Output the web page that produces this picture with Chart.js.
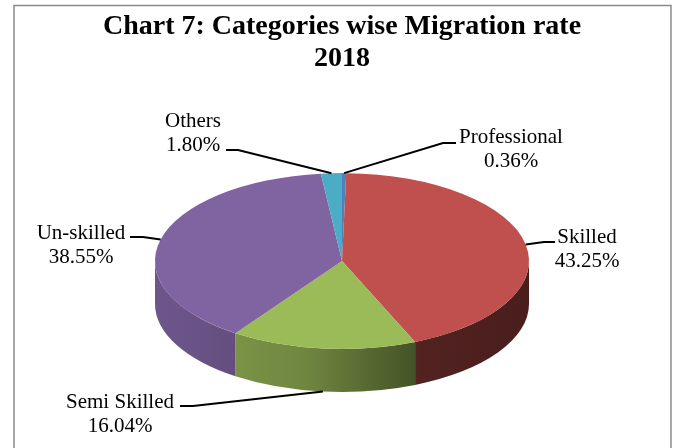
<!DOCTYPE html>
<html>
<head>
<meta charset="utf-8">
<script src="https://cdn.jsdelivr.net/npm/chart.js@4.4.1/dist/chart.umd.min.js"></script>
<style>
    html, body { margin: 0; padding: 0; background: #fff; }
    #wrap { width: 680px; height: 448px; }
</style>
</head>
<body>
<div id="wrap"><canvas id="chart" width="680" height="448"></canvas></div>
<script>
const categories = ['Professional', 'Skilled', 'Semi Skilled', 'Un-skilled', 'Others']
const shares = [0.36, 43.25, 16.04, 38.55, 1.8]
const sliceColors = ['#4f81bd', '#c0504d', '#9bbb59', '#8064a2', '#4bacc6']
const titleLines = ['Chart 7: Categories wise Migration rate', '2018']

const TILT = 0.47 // vertical squash of the pie top
const DEPTH = 43 // thickness of the pie side
const SERIF = '"Liberation Serif", "Times New Roman", serif'

// label text centre + first baseline, and the leader points on the text side
const labelSpots = [
    { x: 511, y: 143, lead: [[456, 143], [443, 143]] },
    { x: 587, y: 243, lead: [[555, 242], [544, 242]] },
    { x: 120, y: 408, lead: [[180, 406], [193, 406]] },
    { x: 81, y: 239, lead: [[130, 237], [143, 237]] },
    { x: 193, y: 127, lead: [[226, 150], [238, 150]] },
]

const shade = (hex, f) => {
    const n = parseInt(hex.slice(1), 16)
    const r = (n >> 16) & 255
    const g = (n >> 8) & 255
    const b = n & 255
    return `rgb(${Math.round(r * f)}, ${Math.round(g * f)}, ${Math.round(b * f)})`
}

const pie3d = {
    id: 'pie3d',
    beforeDraw(chart) {
        const { ctx } = chart
        ctx.save()
        ctx.fillStyle = '#fff'
        ctx.fillRect(0, 0, chart.width, chart.height)
        ctx.strokeStyle = '#8a8a8a'
        ctx.lineWidth = 1.5
        ctx.strokeRect(14, 5.5, 657, 470)
        ctx.restore()
    },
    beforeDatasetsDraw(chart) {
        const { ctx } = chart
        const arcs = chart.getDatasetMeta(0).data
        const { x, y, outerRadius: r } = arcs[0]
        const ry = r * TILT

        // side wall, only the front half shows
        ctx.save()
        arcs.forEach((arc, i) => {
            const s = Math.max(arc.startAngle, 0)
            const e = Math.min(arc.endAngle, Math.PI)
            if (s >= e) return
            const c = sliceColors[i]
            const grad = ctx.createLinearGradient(x - r, 0, x + r, 0)
            grad.addColorStop(0, shade(c, 0.86))
            grad.addColorStop(0.4, shade(c, 0.72))
            grad.addColorStop(0.72, shade(c, 0.42))
            grad.addColorStop(1, shade(c, 0.38))
            ctx.beginPath()
            ctx.ellipse(x, y, r, ry, 0, s, e)
            ctx.ellipse(x, y + DEPTH, r, ry, 0, e, s, true)
            ctx.closePath()
            ctx.fillStyle = grad
            ctx.fill()
        })
        ctx.restore()

        // squash the top face into an ellipse
        ctx.save()
        ctx.translate(x, y)
        ctx.scale(1, TILT)
        ctx.translate(-x, -y)
    },
    afterDatasetsDraw(chart) {
        const { ctx } = chart
        ctx.restore()

        const arcs = chart.getDatasetMeta(0).data
        ctx.save()
        ctx.strokeStyle = '#000'
        ctx.lineWidth = 2
        ctx.fillStyle = '#000'
        ctx.font = `21px ${SERIF}`
        ctx.textAlign = 'center'
        ctx.textBaseline = 'alphabetic'
        arcs.forEach((arc, i) => {
            const spot = labelSpots[i]
            const mid = (arc.startAngle + arc.endAngle) / 2
            const ax = arc.x + arc.outerRadius * Math.cos(mid)
            let ay = arc.y + arc.outerRadius * TILT * Math.sin(mid)
            if (Math.sin(mid) > 0.3) ay += DEPTH
            ctx.beginPath()
            ctx.moveTo(spot.lead[0][0], spot.lead[0][1])
            ctx.lineTo(spot.lead[1][0], spot.lead[1][1])
            ctx.lineTo(ax, ay)
            ctx.stroke()
            ctx.fillText(categories[i], spot.x, spot.y)
            ctx.fillText(shares[i].toFixed(2) + '%', spot.x, spot.y + 24)
        })
        ctx.restore()
    },
}

new Chart(document.getElementById('chart'), {
    type: 'pie',
    data: {
        labels: categories,
        datasets: [
            {
                data: shares,
                backgroundColor: sliceColors,
                borderWidth: 0,
                radius: 187,
                clip: false,
            },
        ],
    },
    options: {
        responsive: false,
        devicePixelRatio: 1,
        animation: false,
        events: [],
        layout: { padding: { left: 4, right: 0, top: 0, bottom: 1 } },
        plugins: {
            legend: { display: false },
            tooltip: { enabled: false },
            title: {
                display: true,
                text: titleLines,
                color: '#000',
                font: { family: SERIF, size: 28, weight: 'bold', lineHeight: 1.143 },
                padding: { top: 11, bottom: 0 },
            },
        },
    },
    plugins: [pie3d],
})
</script>
</body>
</html>
